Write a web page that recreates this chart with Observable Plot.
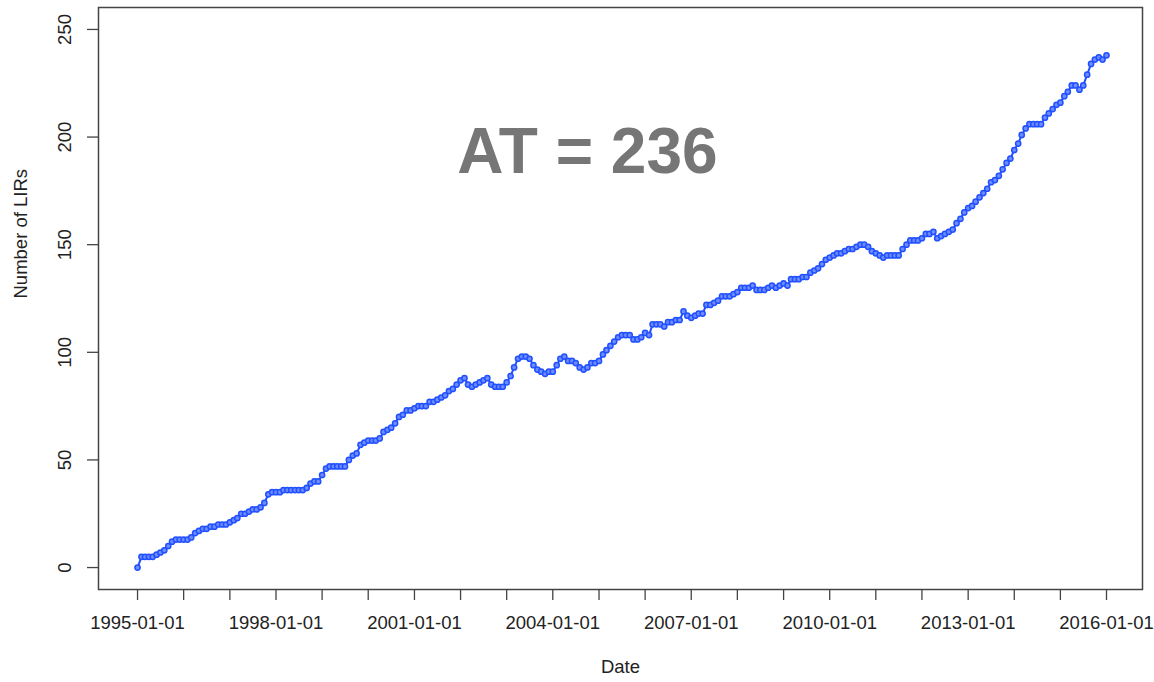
<!DOCTYPE html>
<html>
<head>
<meta charset="utf-8">
<script src="https://cdn.jsdelivr.net/npm/d3@7"></script>
<script src="https://cdn.jsdelivr.net/npm/@observablehq/plot@0.6"></script>
<style>
  html, body { margin: 0; padding: 0; background: #fff; }
  #chart { width: 1154px; height: 682px; }
  svg { font-family: "Liberation Sans", Arial, Helvetica, sans-serif; }
</style>
</head>
<body>
<div id="chart"></div>
<script>
// Monthly counts of LIRs, first value = 1995-01-01
const counts1995to1999 = [
  0,5,5,5,5,6,7,8,10,12,13,13,
  13,13,14,16,17,18,18,19,19,20,20,20,
  21,22,23,25,25,26,27,27,28,30,34,35,
  35,35,36,36,36,36,36,36,37,39,40,40,
  43,46,47,47,47,47,47,50,52,53,57,58
];
const counts2000to2004 = [
  59,59,59,60,63,64,65,67,70,71,73,73,
  74,75,75,75,77,77,78,79,80,82,83,85,
  87,88,85,84,85,86,87,88,85,84,84,84,
  86,89,93,97,98,98,97,94,92,91,90,91,
  91,94,97,98,96,96,95,93,92,93,95,95
];
const counts2005to2009 = [
  96,99,101,103,105,107,108,108,108,106,106,107,
  109,108,113,113,113,112,114,114,115,115,119,117,
  116,117,118,118,122,122,123,124,126,126,126,127,
  128,130,130,130,131,129,129,129,130,131,130,131,
  132,131,134,134,134,135,135,137,138,139,141,143
];
const counts2010to2016 = [
  144,145,146,146,147,148,148,149,150,150,149,147,
  146,145,144,145,145,145,145,148,150,152,152,152,
  153,155,155,156,153,154,155,156,157,160,162,165,
  167,168,170,172,174,176,179,180,182,185,188,190,
  194,197,201,204,206,206,206,206,209,211,213,215,
  216,219,221,224,224,222,224,229,234,236,237,236,
  238
];
const startYear = 1995;
const yTicks = [0, 50, 100, 150, 200, 250];
const xTickYears = d3.range(1995, 2017);
const labelYears = [1995, 1998, 2001, 2004, 2007, 2010, 2013, 2016];
const annotation = "AT = 236";
const xTitle = "Date";
const yTitle = "Number of LIRs";

const counts = [...counts1995to1999, ...counts2000to2004, ...counts2005to2009, ...counts2010to2016];
const data = counts.map((v, i) => ({date: new Date(Date.UTC(startYear, i, 1)), value: v}));
const xTicks = xTickYears.map(y => new Date(Date.UTC(y, 0, 1)));
const fmt = d3.utcFormat("%Y-%m-%d");

const blue = "#2050ff";
const axisColor = "#444";
const textColor = "#222";
const fs = 18.5;

const chart = Plot.plot({
  width: 1154,
  height: 682,
  marginLeft: 98,
  marginRight: 12,
  marginTop: 7,
  marginBottom: 93,
  style: {fontFamily: '"Liberation Sans", Arial, Helvetica, sans-serif', background: "#fff"},
  x: {type: "utc", domain: [new Date(Date.UTC(1994, 1, 26)), new Date(Date.UTC(2016, 9, 12))]},
  y: {domain: [-10.2, 260.2]},
  marks: [
    Plot.frame({stroke: axisColor, strokeWidth: 1.5}),
    Plot.axisX({
      ticks: xTicks,
      tickSize: 11,
      tickPadding: 15,
      fontSize: fs,
      stroke: axisColor,
      fill: textColor,
      strokeWidth: 1.3,
      tickFormat: d => labelYears.includes(d.getUTCFullYear()) ? fmt(d) : "",
      label: null
    }),
    Plot.axisY({
      ticks: yTicks,
      tickSize: 11,
      stroke: axisColor,
      strokeWidth: 1.3,
      tickFormat: () => "",
      label: null
    }),
    Plot.text(yTicks, {
      y: d => d,
      text: d => String(d),
      frameAnchor: "left",
      dx: -33,
      rotate: -90,
      fontSize: fs,
      fill: textColor,
      textAnchor: "middle",
      lineAnchor: "middle"
    }),
    Plot.text([xTitle], {
      text: d => d,
      frameAnchor: "bottom",
      dy: 78,
      fontSize: fs,
      fill: textColor,
      lineAnchor: "middle"
    }),
    Plot.text([yTitle], {
      text: d => d,
      frameAnchor: "left",
      dx: -77,
      rotate: -90,
      fontSize: fs,
      fill: textColor,
      lineAnchor: "middle"
    }),
    Plot.line(data, {x: "date", y: "value", stroke: blue, strokeWidth: 2}),
    Plot.dot(data, {x: "date", y: "value", r: 2.6, stroke: blue, strokeWidth: 1.5, fill: "#6f8cff"}),
    Plot.text([annotation], {
      text: d => d,
      frameAnchor: "top",
      dx: -33,
      dy: 145,
      fontSize: 64,
      fontWeight: "bold",
      fill: "#767676",
      lineAnchor: "middle"
    })
  ]
});
document.getElementById("chart").appendChild(chart);
</script>
</body>
</html>
